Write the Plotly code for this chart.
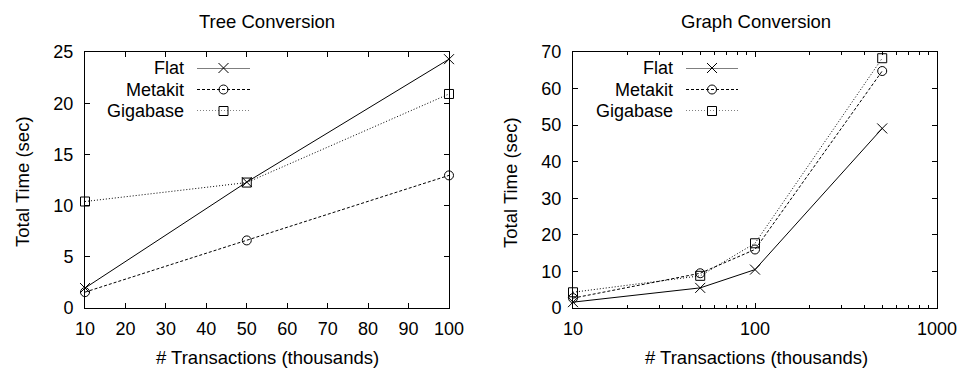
import plotly.graph_objects as go

# ---- data ----
tree_x = [10, 50, 100]
tree_flat = [1.95, 12.3, 24.3]
tree_metakit = [1.55, 6.6, 12.95]
tree_gigabase = [10.4, 12.25, 20.9]

graph_x = [10, 50, 100, 500]
graph_flat = [1.6, 5.5, 10.5, 49.1]
graph_metakit = [2.7, 9.5, 16.0, 64.8]
graph_gigabase = [4.3, 8.8, 17.7, 68.3]

series_names = ["Flat", "Metakit", "Gigabase"]
dashes = ["solid", "3px,2px", "1px,2px"]
symbols = ["x-thin-open", "circle-open", "square-open"]
msizes = [10, 9, 9]

tree_ticks = list(range(10, 101, 10))
tree_yticks = [0, 5, 10, 15, 20, 25]
graph_yticks = [0, 10, 20, 30, 40, 50, 60, 70]

FONT = "Liberation Sans, Arial, sans-serif"
W, H = 961, 372

def px(x):
    return x / W

def py(y):
    return 1 - y / H

fig = go.Figure()

tree_series = [tree_flat, tree_metakit, tree_gigabase]
graph_series = [graph_flat, graph_metakit, graph_gigabase]

for name, ys, d, s, ms in zip(series_names, tree_series, dashes, symbols, msizes):
    fig.add_trace(go.Scatter(x=tree_x, y=ys, mode="lines+markers", name=name,
                             line=dict(color="black", width=1, dash=d),
                             marker=dict(symbol=s, size=ms, color="black",
                                         line=dict(width=1, color="black")),
                             xaxis="x", yaxis="y", showlegend=False, cliponaxis=False))
for name, ys, d, s, ms in zip(series_names, graph_series, dashes, symbols, msizes):
    fig.add_trace(go.Scatter(x=graph_x, y=ys, mode="lines+markers", name=name,
                             line=dict(color="black", width=1, dash=d),
                             marker=dict(symbol=s, size=ms, color="black",
                                         line=dict(width=1, color="black")),
                             xaxis="x2", yaxis="y2", showlegend=False, cliponaxis=False))

# custom gnuplot-style legends (text right, sample line+marker)
leg_rows = [0.0, 1.0, 2.0]
for ax_x, ax_y in (("x3", "y3"), ("x4", "y4")):
    for i, (name, d, s, ms) in enumerate(zip(series_names, dashes, symbols, msizes)):
        fig.add_trace(go.Scatter(x=[0, 1, 2], y=[leg_rows[i]] * 3, mode="lines",
                                 line=dict(color="black", width=1, dash=d),
                                 xaxis=ax_x, yaxis=ax_y, showlegend=False, hoverinfo="skip"))
        fig.add_trace(go.Scatter(x=[1], y=[leg_rows[i]], mode="markers",
                                 marker=dict(symbol=s, size=ms, color="black",
                                             line=dict(width=1, color="black")),
                                 xaxis=ax_x, yaxis=ax_y, showlegend=False, hoverinfo="skip",
                                 cliponaxis=False))
        fig.add_annotation(text=name, xref=ax_x, yref=ax_y, x=0, y=leg_rows[i],
                           xanchor="right", yanchor="middle", xshift=-11, showarrow=False,
                           font=dict(family=FONT, size=18, color="black"))

axis_common = dict(showgrid=False, zeroline=False, showline=True, linecolor="black",
                   linewidth=1, mirror="ticks", ticks="inside", ticklen=5,
                   tickcolor="black", automargin=False,
                   tickfont=dict(family=FONT, size=18, color="black"))

yd = [py(308), py(52)]
fig.update_layout(
    width=W, height=H,
    margin=dict(l=0, r=0, t=0, b=0, pad=0),
    plot_bgcolor="white", paper_bgcolor="white",
    xaxis=dict(domain=[px(85), px(449)], range=[10, 100], tickvals=tree_ticks,
               anchor="y", ticklabelstandoff=4, **axis_common),
    yaxis=dict(domain=yd, range=[0, 25], tickvals=tree_yticks, anchor="x",
               ticklabelstandoff=7, **axis_common),
    xaxis2=dict(domain=[px(573), px(937)], type="log", range=[1, 3],
                tickvals=[10, 100, 1000], anchor="y2", ticklabelstandoff=4,
                minor=dict(ticks="inside", ticklen=3, tickcolor="black",
                           tickvals=[20, 30, 40, 50, 60, 70, 80, 90,
                                     200, 300, 400, 500, 600, 700, 800, 900],
                           showgrid=False),
                **axis_common),
    yaxis2=dict(domain=yd, range=[0, 70], tickvals=graph_yticks, anchor="x2",
                ticklabelstandoff=7, **axis_common),
    # legend sample axes
    xaxis3=dict(domain=[px(197), px(250)], range=[0, 2], visible=False, anchor="y3", automargin=False),
    yaxis3=dict(domain=[py(111), py(68)], range=[2, 0], visible=False, anchor="x3", automargin=False),
    xaxis4=dict(domain=[px(686), px(738)], range=[0, 2], visible=False, anchor="y4", automargin=False),
    yaxis4=dict(domain=[py(111), py(68)], range=[2, 0], visible=False, anchor="x4", automargin=False),
    showlegend=False,
)

ann_font = dict(family=FONT, size=18.5, color="black")
for xc, txt in ((267, "Tree Conversion"), (756, "Graph Conversion")):
    fig.add_annotation(text=txt, xref="paper", yref="paper", x=px(xc), y=py(22),
                       xanchor="center", yanchor="middle", showarrow=False,
                       font=dict(family=FONT, size=18.5, color="black"))
for xc in (267, 756):
    fig.add_annotation(text="# Transactions (thousands)", xref="paper", yref="paper",
                       x=px(xc), y=py(357), xanchor="center", yanchor="middle",
                       showarrow=False, font=ann_font)
for xc in (22, 510):
    fig.add_annotation(text="Total Time (sec)", xref="paper", yref="paper",
                       x=px(xc), y=py(182), xanchor="center", yanchor="middle",
                       textangle=-90, showarrow=False, font=ann_font)

fig.write_html("out.html", config={"displayModeBar": False},
               post_script="document.body.style.margin='0';document.body.style.overflow='hidden';")
